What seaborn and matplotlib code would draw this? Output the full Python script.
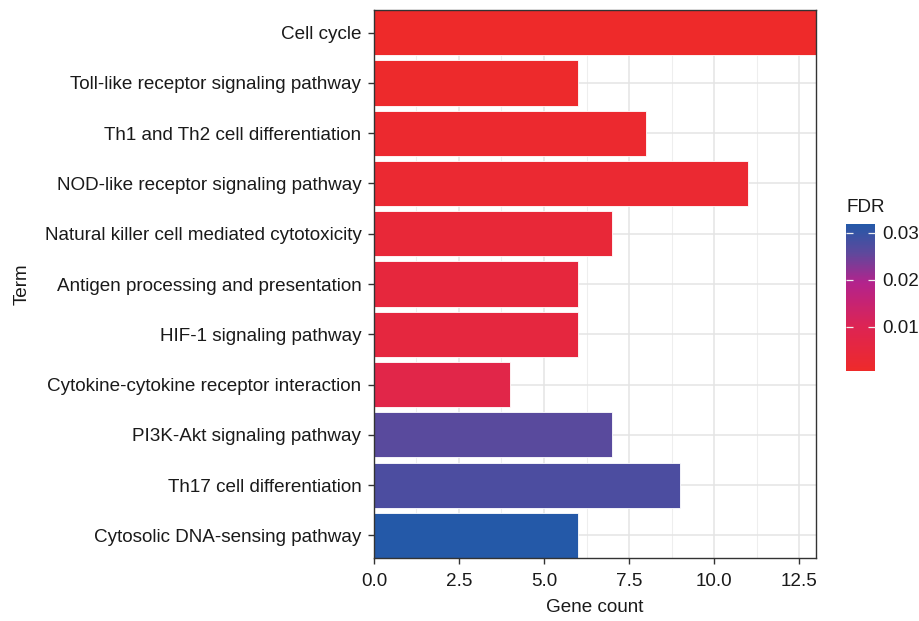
import numpy as np
import pandas as pd
import matplotlib
matplotlib.use('Agg')
import matplotlib.pyplot as plt
import seaborn as sns
from matplotlib.colors import LinearSegmentedColormap, Normalize
from matplotlib.cm import ScalarMappable
from matplotlib.ticker import MultipleLocator

terms = [
    'Cell cycle',
    'Toll-like receptor signaling pathway',
    'Th1 and Th2 cell differentiation',
    'NOD-like receptor signaling pathway',
    'Natural killer cell mediated cytotoxicity',
    'Antigen processing and presentation',
    'HIF-1 signaling pathway',
    'Cytokine-cytokine receptor interaction',
    'PI3K-Akt signaling pathway',
    'Th17 cell differentiation',
    'Cytosolic DNA-sensing pathway',
]
gene_count = [13, 6, 8, 11, 7, 6, 6, 4, 7, 9, 6]
fdr = [0.0006, 0.0012, 0.0018, 0.0025, 0.0040, 0.0050, 0.0056, 0.0076, 0.0262, 0.0275, 0.0319]

fdr_min, fdr_max = 0.0006, 0.0319

sns.set_style('white')
plt.rcParams['font.family'] = ['Liberation Sans', 'DejaVu Sans']
FS = 13.6
TXT = '#1a1a1a'

# red -> magenta -> blue, roughly like ggplot's Lab gradient
cmap = LinearSegmentedColormap.from_list(
    'fdr', [(0.0, '#EE2A2A'), (0.3, '#DD2453'), (0.6, '#B3238C'),
            (0.8, '#5F489C'), (1.0, '#2459A8')])
norm = Normalize(fdr_min, fdr_max)
colors = [cmap(norm(v)) for v in fdr]

df = pd.DataFrame({'Term': terms, 'count': gene_count})

fig = plt.figure(figsize=(9.2, 6.21), dpi=100)
ax = fig.add_axes([0.4065, 0.1014, 0.4805, 0.8825])

sns.barplot(data=df, x='count', y='Term', hue='Term', palette=colors,
            legend=False, width=0.9, edgecolor='white', linewidth=0.6,
            saturation=1, ax=ax, zorder=3)

ax.set_xlim(0, 13)
ax.set_ylim(10.45, -0.45)
ax.xaxis.set_minor_locator(MultipleLocator(1.25))
ax.set_xticks(np.arange(0, 13, 2.5))
ax.set_xticklabels([f'{v:.1f}' for v in np.arange(0, 13, 2.5)])
ax.grid(True, which='major', color='#E4E4E4', linewidth=1.1, zorder=0)
ax.grid(True, which='minor', axis='x', color='#EEEEEE', linewidth=0.8, zorder=0)
ax.set_axisbelow(True)
for s in ax.spines.values():
    s.set_visible(True)
    s.set_color('#333333')
    s.set_linewidth(1.0)
    s.set_zorder(5)
ax.tick_params(axis='both', which='major', direction='out', length=4,
               color='#333333', width=1, labelsize=FS, labelcolor=TXT,
               left=True, bottom=True)
ax.tick_params(axis='y', pad=5)
ax.tick_params(axis='x', pad=7)
ax.tick_params(axis='x', which='minor', length=0)
ax.set_xlabel('Gene count', fontsize=FS, color=TXT, labelpad=6)
ax.set_ylabel('Term', fontsize=FS, color=TXT, labelpad=10)

# colour bar
cax = fig.add_axes([0.9196, 0.4026, 0.0315, 0.2367])
sm = ScalarMappable(norm=norm, cmap=cmap)
cb = fig.colorbar(sm, cax=cax, ticks=[0.01, 0.02, 0.03])
cb.outline.set_visible(False)
cb.ax.set_axisbelow(False)
cb.ax.set_yticklabels(['0.01', '0.02', '0.03'])
cb.ax.tick_params(direction='in', length=5, color='#F0F0F0', width=0.9,
                  labelsize=FS, labelcolor=TXT, left=True, right=True, pad=5)
fig.text(0.9196, 0.652, 'FDR', fontsize=FS, color=TXT, ha='left', va='bottom')

fig.savefig('out.png', dpi=100)
